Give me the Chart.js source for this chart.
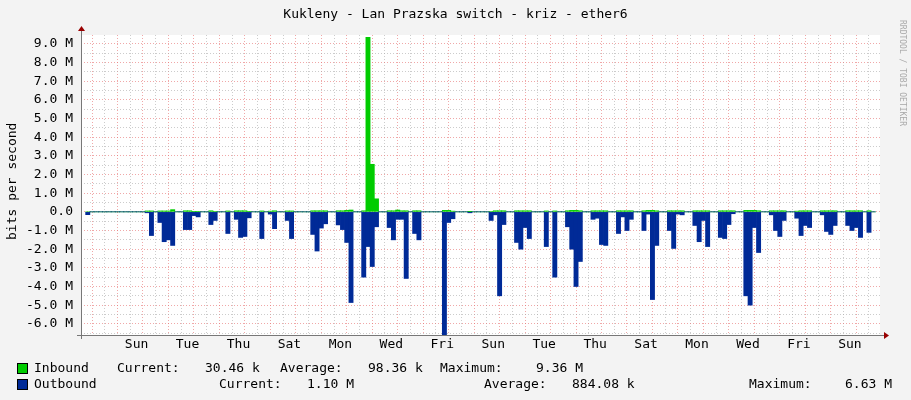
<!DOCTYPE html>
<html><head><meta charset="utf-8">
<script src="https://cdn.jsdelivr.net/npm/chart.js@4"></script>
<style>
html,body{margin:0;padding:0;background:#f3f3f3;}
#wrap{position:relative;width:911px;height:400px;overflow:hidden;font-family:"DejaVu Sans Mono",monospace;font-size:13px;color:#000;}
canvas{position:absolute;left:0;top:0;}
.t{position:absolute;white-space:pre;line-height:14px;}
.sq{position:absolute;width:9px;height:9px;border:1px solid #000;}
</style></head><body>
<div id="wrap">
<canvas id="c" width="911" height="400"></canvas>
<div class="t" style="left:0;width:911px;text-align:center;top:7px;">Kukleny - Lan Prazska switch - kriz - ether6</div>
<div class="t" style="left:-43px;top:178px;width:110px;text-align:center;transform:rotate(-90deg);">bits per second</div>
<div class="t" style="left:842px;top:66px;width:120px;text-align:center;transform:rotate(90deg);font-size:8px;color:#aaa;">RRDTOOL / TOBI OETIKER</div>
<div class="sq" style="left:17px;top:363px;background:#00cc00;"></div>
<div class="t" style="left:34px;top:361px;">Inbound</div>
<div class="t" style="left:117px;top:361px;">Current:</div>
<div class="t" style="left:205px;top:361px;">30.46 k</div>
<div class="t" style="left:280px;top:361px;">Average:</div>
<div class="t" style="left:368px;top:361px;">98.36 k</div>
<div class="t" style="left:440px;top:361px;">Maximum:</div>
<div class="t" style="left:536px;top:361px;">9.36 M</div>
<div class="sq" style="left:17px;top:379px;background:#002a97;"></div>
<div class="t" style="left:34px;top:377px;">Outbound</div>
<div class="t" style="left:219px;top:377px;">Current:</div>
<div class="t" style="left:307px;top:377px;">1.10 M</div>
<div class="t" style="left:484px;top:377px;">Average:</div>
<div class="t" style="left:572px;top:377px;">884.08 k</div>
<div class="t" style="left:749px;top:377px;">Maximum:</div>
<div class="t" style="left:845px;top:377px;">6.63 M</div>
</div>
<script>
// 4-hour bins, bin k starts at (12 + 4k) hours after Friday 00:00
const binStartHour = 12, binHours = 4;
const outboundM = [
0.15,0,0,0,0,0,0,0,0,0, 0,0,0,0,0.05,1.27,0,0.57,1.6,1.5,
1.8,0,0,0.95,0.95,0.2,0.27,0,0,0.68, 0.46,0,0,1.16,0,0.4,1.37,1.32,0.32,0,
0,1.43,0,0.12,0.9,0,0,0.46,1.43,0, 0,0,0,1.21,2.1,0.87,0.64,0,0,0.7,
0.95,1.64,4.86,0,0,3.5,1.86,2.93,0.8,0, 0,0.84,1.5,0.4,0.4,3.57,0,1.16,1.5,0,
0,0,0,0,6.63,0.57,0.37,0,0,0, 0.05,0,0,0,0,0.46,0.16,4.5,0.68,0,
0,1.64,2.0,0.84,1.43,0,0,0,1.86,0, 3.5,0,0,0.8,2.0,4.0,2.66,0,0,0.4,
0.34,1.75,1.8,0,0,1.16,0.27,1.0,0.4,0, 0,1.0,0.12,4.7,1.8,0,0,1.0,1.96,0.12,
0.16,0,0,0.73,1.6,0.46,1.86,0,0,1.37, 1.43,0.68,0.1,0,0,4.5,5.0,0.84,2.18,0,
0,0.16,1.0,1.32,0.46,0,0,0.34,1.27,0.73, 0.84,0,0,0.16,1.05,1.21,0.73,0,0,0.73,
1.0,0.84,1.37,0,1.1,0
];
const inboundM = [
0,0,0,0,0,0,0,0,0,0, 0,0,0,0,0.05,0.05,0,0.05,0.05,0.05,
0.12,0,0,0.06,0.06,0.02,0.02,0,0,0.06, 0.03,0,0,0.05,0,0.06,0.06,0.06,0.02,0,
0,0.05,0,0.04,0.06,0,0,0.05,0.05,0, 0,0,0,0.06,0.06,0.06,0.06,0,0,0.06,
0.06,0.08,0.1,0,0,0.06,9.36,2.55,0.7,0, 0,0.06,0.06,0.1,0.06,0.06,0,0.06,0.06,0,
0,0,0,0,0.08,0.08,0.04,0,0,0, 0.01,0,0,0,0,0.03,0.06,0.06,0.06,0,
0,0.06,0.06,0.06,0.06,0,0,0,0.05,0, 0.05,0,0,0.06,0.08,0.08,0.06,0,0,0.06,
0.06,0.06,0.06,0,0,0.06,0.06,0.06,0.06,0, 0,0.06,0.08,0.08,0.06,0,0,0.06,0.06,0.06,
0.06,0,0,0.06,0.06,0.06,0.06,0,0,0.06, 0.06,0.06,0.06,0,0,0.08,0.08,0.08,0.06,0,
0,0.06,0.06,0.06,0.06,0,0,0.04,0.06,0.06, 0.06,0,0,0.06,0.06,0.06,0.06,0,0,0.06,
0.06,0.06,0.06,0,0.06,0
];
const xTickLabels = ['Sun','Tue','Thu','Sat','Mon','Wed','Fri','Sun','Tue','Thu','Sat','Mon','Wed','Fri','Sun'];
const yTickValuesM = [-6,-5,-4,-3,-2,-1,0,1,2,3,4,5,6,7,8,9];
const yTickLabels = ['-6.0 M','-5.0 M','-4.0 M','-3.0 M','-2.0 M','-1.0 M','0.0','1.0 M','2.0 M','3.0 M','4.0 M','5.0 M','6.0 M','7.0 M','8.0 M','9.0 M'];
const xMin = 13.8, xMax = 754.2, yMin = -6.6e6, yMax = 9.48e6;

const ctr = i => binStartHour + binHours*i + binHours/2;
const inData = inboundM.map((v,i)=>({x:ctr(i),y:v*1e6}));
const outData = outboundM.map((v,i)=>({x:ctr(i),y:-v*1e6}));

const frame = {
  id:'frame',
  beforeDraw(ch){const a=ch.chartArea,c=ch.ctx;c.save();c.fillStyle='#fff';c.fillRect(a.left,a.top,a.right-a.left,a.bottom-a.top);c.restore();},
  afterDraw(ch){const a=ch.chartArea,c=ch.ctx;c.save();
    c.strokeStyle='#777';c.lineWidth=1;c.beginPath();
    c.moveTo(a.left-4,a.bottom+0.5);c.lineTo(a.right+4,a.bottom+0.5);
    c.moveTo(a.left+0.5,a.bottom+4);c.lineTo(a.left+0.5,a.top-4);c.stroke();
    c.fillStyle='#990000';c.beginPath();
    c.moveTo(a.right+4,a.bottom-3);c.lineTo(a.right+9,a.bottom+0.5);c.lineTo(a.right+4,a.bottom+4);c.fill();
    c.beginPath();c.moveTo(a.left-3,a.top-4);c.lineTo(a.left+0.5,a.top-9);c.lineTo(a.left+4,a.top-4);c.fill();
    c.restore();}
};
const font = {family:'DejaVu Sans Mono',size:13};
new Chart(document.getElementById('c'),{
  type:'bar',
  data:{datasets:[
    {label:'Inbound',data:inData,backgroundColor:'#00cc00',barPercentage:1,categoryPercentage:1,order:2},
    {label:'Outbound',data:outData,backgroundColor:'#002a97',barPercentage:1,categoryPercentage:1,order:1}
  ]},
  options:{
    responsive:false,animation:false,
    layout:{padding:{top:35,right:31,left:0,bottom:0}},
    plugins:{legend:{display:false},tooltip:{enabled:false}},
    datasets:{bar:{grouped:false}},
    scales:{
      x:{type:'linear',min:xMin,max:xMax,
        afterFit(s){s.height=65;},
        afterBuildTicks(s){const t=[];for(let h=24;h<xMax;h+=12)t.push({value:h});s.ticks=t;},
        ticks:{autoSkip:false,maxRotation:0,font,color:'#000',padding:2,
          callback(v){const r=(v-60)/48;return Number.isInteger(r)&&r>=0&&r<xTickLabels.length?xTickLabels[r]:'';}},
        grid:{color(c){return c.tick&&c.tick.value%24===0?'rgba(230,110,110,0.6)':'rgba(170,170,170,0.6)';},tickLength:4,drawTicks:false},
        border:{display:false,dash:[1,2]}
      },
      y:{min:yMin,max:yMax,
        afterFit(s){s.width=81;},
        afterBuildTicks(s){const t=[];for(let v=-6.5;v<=9.0;v+=0.5)t.push({value:v*1e6});s.ticks=t;},
        ticks:{autoSkip:false,font,color:'#000',padding:8,
          callback(v){const i=yTickValuesM.indexOf(Math.round(v/1e5)/10);return i>=0?yTickLabels[i]:'';}},
        grid:{color(c){return c.tick&&Math.abs(c.tick.value%1e6)<1?'rgba(230,110,110,0.6)':'rgba(170,170,170,0.6)';},drawTicks:false},
        border:{display:false,dash:[1,2]}
      }
    }
  },
  plugins:[frame]
});
</script>
</body></html>
